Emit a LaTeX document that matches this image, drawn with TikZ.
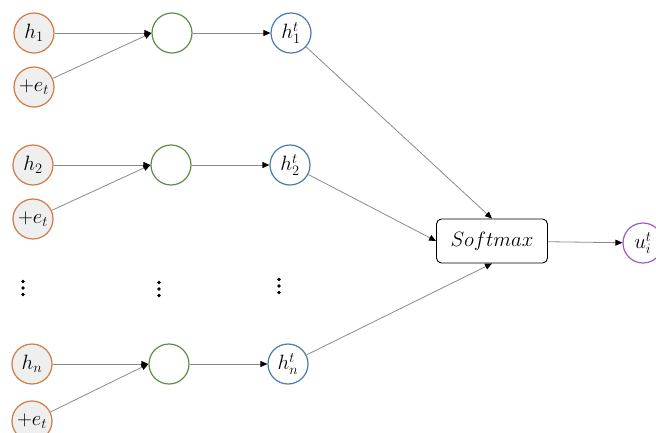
\documentclass[tikz,border=0pt]{standalone}
\usetikzlibrary{arrows.meta}
\definecolor{inorange}{HTML}{D07A45}
\definecolor{infill}{HTML}{EFEFEF}
\definecolor{midgreen}{HTML}{5E8C45}
\definecolor{outblue}{HTML}{4A79AD}
\definecolor{respurple}{HTML}{9A5CC6}
\definecolor{linkgray}{HTML}{8A8A8A}
\begin{document}
\begin{tikzpicture}[x=1pt,y=-1pt,
  lbl/.style={font=\fontsize{20}{23}\selectfont},
  innode/.style={circle,draw=inorange,fill=infill,line width=1.2pt,minimum size=40pt,inner sep=0pt,lbl},
  sumnode/.style={circle,draw=midgreen,line width=1.2pt,minimum size=40pt,inner sep=0pt},
  hidnode/.style={circle,draw=outblue,line width=1.2pt,minimum size=40pt,inner sep=0pt,lbl},
  outnode/.style={circle,draw=respurple,line width=1.2pt,minimum size=40pt,inner sep=0pt,lbl},
  smbox/.style={draw,rounded corners=5pt,line width=0.9pt,minimum width=111pt,minimum height=44pt,font=\fontsize{22}{25}\selectfont},
  link/.style={draw=linkgray,line width=0.8pt,-{Triangle[length=7pt,width=6pt,color=black]}},
  dotmark/.style={fill=black}]
\useasboundingbox (0,0) rectangle (656,432);
% row 1
\node[innode] (h1) at (34,33) {$h_1$};
\node[innode] (e1) at (34,87) {$+e_t$};
\node[sumnode] (s1) at (172,33) {};
\node[hidnode] (t1) at (291,33) {$h_1^t$};
% row 2
\node[innode] (h2) at (33,165) {$h_2$};
\node[innode] (e2) at (33,219) {$+e_t$};
\node[sumnode] (s2) at (171,165) {};
\node[hidnode] (t2) at (290,165) {$h_2^t$};
% ellipsis marks (three dots per column)
\coordinate (d1) at (23,288);
\coordinate (d2) at (159,289);
\coordinate (d3) at (279,286);
\foreach \c in {d1,d2,d3}
  \foreach \dy in {-6.5,0,6.5}
    \fill[dotmark,shift={(\c)}] (0,\dy) circle (1.8pt);
% row n
\node[innode] (hn) at (32,364) {$h_n$};
\node[innode] (en) at (32,421) {$+e_t$};
\node[sumnode] (sn) at (169,364) {};
\node[hidnode] (tn) at (288,364) {$h_n^t$};
% softmax and output
\node[smbox] (sm) at (492,241) {$Softmax$};
\node[outnode] (u) at (643,243) {$u_i^t$};
% connectors
\draw[link] (h1) -- (s1.west);
\draw[link] (e1) -- (s1.west);
\draw[link] (s1) -- (t1);
\draw[link] (h2) -- (s2.west);
\draw[link] (e2) -- (s2.west);
\draw[link] (s2) -- (t2);
\draw[link] (hn) -- (sn.west);
\draw[link] (en) -- (sn.west);
\draw[link] (sn) -- (tn);
\draw[link] (t1) -- (sm.north);
\draw[link] (t2) -- (sm.west);
\draw[link] (tn) -- (sm.south);
\draw[link] (sm) -- (u);
\end{tikzpicture}
\end{document}
